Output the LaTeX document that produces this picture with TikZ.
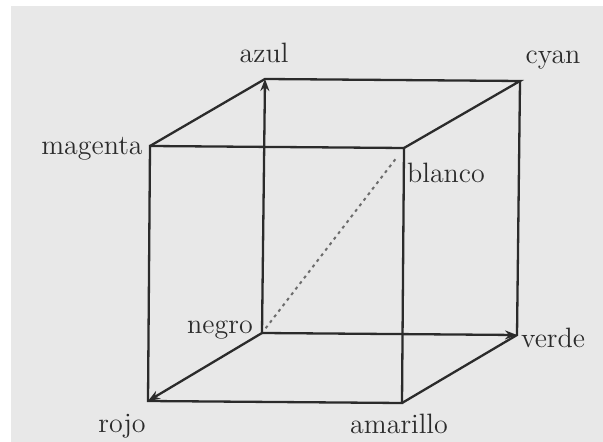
\documentclass[tikz,border=0pt]{standalone}
\usepackage{tikz}
\usetikzlibrary{arrows.meta}
\definecolor{fondo}{HTML}{E8E8E8}
\definecolor{tinta}{HTML}{2B2B2B}

\begin{document}
\begin{tikzpicture}[x=0.5pt, y=-0.5pt, >={Stealth[length=6pt, width=4.5pt]},
  arista/.style={line width=1.15pt, tinta},
  etiqueta/.style={anchor=base, text=tinta, inner sep=0pt, font=\fontsize{14}{16}\selectfont}]
  \useasboundingbox (0,0) rectangle (603,442);
  \fill[white] (0,0) rectangle (603,442);
  \fill[fondo] (11,6) rectangle (603,442);

  % === VERTICES ===
  \coordinate (magenta) at (150,146);
  \coordinate (blanco) at (404,148);
  \coordinate (rojo) at (148,401);
  \coordinate (amarillo) at (402,403);
  \coordinate (azul) at (265,79);
  \coordinate (cyan) at (520,81);
  \coordinate (negro) at (262,333);
  \coordinate (verde) at (517,335);

  % Diagonal de grises
  \draw[line width=1pt, gray!85!black, dash pattern=on 1.5pt off 2pt, shorten <=3pt, shorten >=7pt] (negro) -- (blanco);

  % Ejes desde el negro
  \draw[arista, ->] (negro) -- (azul);
  \draw[arista, ->] (negro) -- (verde);
  \draw[arista, ->] (negro) -- (rojo);

  % Aristas del cubo
  \draw[arista, line join=miter] (rojo) -- (magenta) -- (blanco) -- (amarillo) -- cycle;
  \draw[arista, line join=miter] (magenta) -- (azul) -- (cyan) -- (blanco);
  \draw[arista, line join=miter] (cyan) -- (verde) -- (amarillo);

  % === ETIQUETAS ===
  \node[etiqueta] (lazul) at (264,63) {azul};
  \node[etiqueta] (lcyan) at (553,64) {cyan};
  \node[etiqueta] (lmagenta) at (92,155) {magenta};
  \node[etiqueta] (lblanco) at (446,183) {blanco};
  \node[etiqueta] (lnegro) at (220,333) {negro};
  \node[etiqueta] (lverde) at (553,347) {verde};
  \node[etiqueta] (lrojo) at (122,432) {rojo};
  \node[etiqueta] (lamarillo) at (399,433) {amarillo};
\end{tikzpicture}
\end{document}
